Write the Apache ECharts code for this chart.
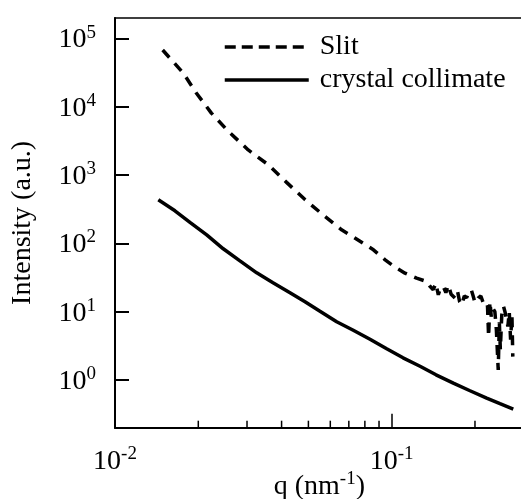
<!DOCTYPE html>
<html>
<head>
<meta charset="utf-8">
<script src="https://cdn.jsdelivr.net/npm/echarts@6/dist/echarts.min.js"></script>
<style>
html,body{margin:0;padding:0;background:#fff;}
#chart{width:521px;height:499px;}
</style>
</head>
<body>
<div id="chart"></div>
<script>
// Slit (dashed) data: [q, intensity]
const slitQ = [0.01487, 0.01767, 0.0197, 0.0223, 0.0257, 0.0303, 0.0358, 0.0417, 0.0487, 0.0574, 0.0659, 0.0736, 0.0859, 0.0947, 0.1028, 0.1117, 0.123, 0.1337,
  0.137, 0.1413, 0.1444, 0.1474, 0.150, 0.1536, 0.157, 0.1602, 0.164, 0.1693, 0.173, 0.176, 0.179, 0.183, 0.1866, 0.19, 0.194, 0.197, 0.2, 0.2055, 0.21, 0.2143,
  0.219, 0.222, 0.224, 0.2265, 0.229, 0.2328, 0.236, 0.239, 0.2427, 0.245, 0.247, 0.25, 0.2535, 0.2567, 0.26, 0.263, 0.266, 0.269, 0.272, 0.274];
const slitI = [68000, 31000, 15800, 8100, 4360, 2340, 1420, 783, 435, 248, 158, 120, 80.5, 57.5, 45, 36.7, 31, 27.7,
  24, 21, 26, 17.7, 22, 23.4, 19, 24.5, 18, 15.8, 19.8, 14, 12.6, 17, 16, 19.5, 20.9, 17, 13.5, 15.8, 17, 13.4,
  14.1, 12, 4.3, 14, 8.5, 11, 10, 5.4, 1.4, 7, 2.8, 9, 12, 10, 9.5, 6.1, 10, 3.9, 9, 2.2];
// Crystal collimate (solid) data
const crystalQ = [0.01434, 0.01647, 0.01866, 0.02145, 0.02462, 0.02829, 0.03252, 0.03724, 0.0429, 0.04861, 0.05506, 0.06326, 0.07263, 0.08349, 0.09592, 0.1099, 0.1266, 0.1446, 0.167, 0.1919, 0.2204, 0.2462, 0.2751];
const crystalI = [434.8, 300, 203.7, 133.6, 83.4, 55.6, 37.1, 26.5, 18.9, 13.96, 10.14, 7.11, 5.35, 3.94, 2.86, 2.11, 1.59, 1.19, 0.90, 0.695, 0.543, 0.449, 0.375];
// Axis ranges and ticks
const xMin = 0.01, xMax = 0.3;
const yMin = 0.2, yMax = 2e5;
const xMinorTicks = [0.02, 0.03, 0.04, 0.05, 0.06, 0.07, 0.08, 0.09, 0.2, 0.3];
const seriesNames = ['Slit', 'crystal collimate'];
const xName = 'q (nm';
const xNameSup = '-1';
const yName = 'Intensity (a.u.)';

const FONT = 'Liberation Serif';
const zip = (a, b) => a.map((v, i) => [v, b[i]]);
const powLabel = v => {
  const e = Math.log10(v);
  if (Math.abs(e - Math.round(e)) > 1e-6) return '';
  return '{b|10}{s|' + Math.round(e) + '}';
};
const richLbl = {
  b: { fontSize: 28, fontFamily: FONT, color: '#000', verticalAlign: 'bottom', lineHeight: 30 },
  s: { fontSize: 19, fontFamily: FONT, color: '#000', verticalAlign: 'bottom', padding: [0, 0, 12, 0] }
};
const hiddenSymbol = { color: 'rgba(0,0,0,0)', borderWidth: 0, opacity: 0 };

const chart = echarts.init(document.getElementById('chart'), null, { renderer: 'canvas' });
chart.setOption({
  animation: false,
  backgroundColor: '#fff',
  grid: { left: 115, top: 18, width: 408.7, height: 409.7, containLabel: false, outerBoundsMode: 'none',
    show: true, borderColor: '#000', borderWidth: 1.5, backgroundColor: 'transparent' },
  legend: {
    left: 223, top: 33, orient: 'vertical', padding: 0,
    itemWidth: 84, itemHeight: 28, itemGap: 5,
    textStyle: { fontSize: 28, fontFamily: FONT, color: '#000', padding: [0, 0, 0, 6] },
    data: [
      { name: seriesNames[0], itemStyle: hiddenSymbol, lineStyle: { type: [11, 6], width: 3.5, color: '#000' } },
      { name: seriesNames[1], itemStyle: hiddenSymbol, lineStyle: { type: 'solid', width: 3.5, color: '#000' } }
    ]
  },
  xAxis: {
    type: 'log', logBase: 10, min: xMin, max: xMax,
    name: '{a|' + xName + '}{s|' + xNameSup + '}{a|)}',
    nameLocation: 'middle', nameGap: 42, nameMoveOverlap: false,
    nameTextStyle: {
      rich: {
        a: { fontSize: 28, fontFamily: FONT, color: '#000', verticalAlign: 'bottom', lineHeight: 30 },
        s: { fontSize: 19, fontFamily: FONT, color: '#000', verticalAlign: 'bottom', padding: [0, 0, 12, 0] }
      }
    },
    axisLine: { show: true, lineStyle: { color: '#000', width: 2 } },
    axisTick: { show: true, inside: true, length: 14, lineStyle: { color: '#000', width: 1.5 } },
    axisLabel: { margin: 17, formatter: powLabel, rich: richLbl, showMaxLabel: false },
    splitLine: { show: false },
    minorTick: { show: false }
  },
  yAxis: {
    type: 'log', logBase: 10, min: yMin, max: yMax, splitNumber: 6,
    name: yName, nameLocation: 'middle', nameGap: 78, nameRotate: 90, nameMoveOverlap: false,
    nameTextStyle: { fontSize: 28, fontFamily: FONT, color: '#000' },
    axisLine: { show: true, lineStyle: { color: '#000', width: 2 } },
    axisTick: { show: true, inside: true, length: 14, lineStyle: { color: '#000', width: 2 } },
    axisLabel: { margin: 19, formatter: powLabel, rich: richLbl, showMinLabel: false, showMaxLabel: false },
    splitLine: { show: false }
  },
  series: [
    {
      name: seriesNames[0], type: 'line', data: zip(slitQ, slitI), symbol: 'none', showSymbol: false, smooth: false,
      lineStyle: { color: '#000', width: 3.5, type: [10, 8] }, itemStyle: { color: '#000' }
    },
    {
      name: seriesNames[1], type: 'line', data: zip(crystalQ, crystalI), symbol: 'none', showSymbol: false, smooth: false,
      lineStyle: { color: '#000', width: 3.5, type: 'solid' }, itemStyle: { color: '#000' }
    },
    {
      name: 'minorTicks', type: 'custom', silent: true,
      data: xMinorTicks.map(v => [v, yMin]),
      renderItem: (params, api) => {
        const p = api.coord([api.value(0), api.value(1)]);
        return { type: 'line', shape: { x1: p[0], y1: p[1], x2: p[0], y2: p[1] - 7 }, style: { stroke: '#000', lineWidth: 1.5 } };
      }
    }
  ]
});
</script>
</body>
</html>
